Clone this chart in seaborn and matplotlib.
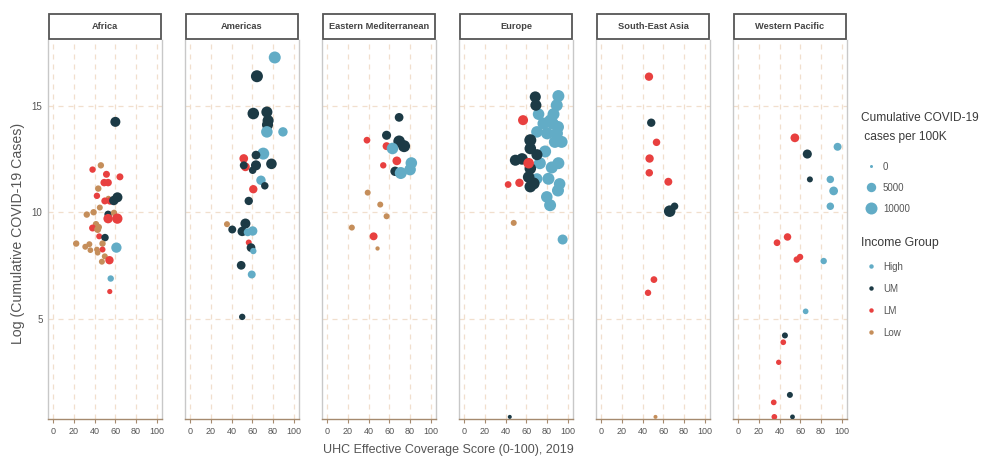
import numpy as np
import pandas as pd
import matplotlib
matplotlib.use("Agg")
import matplotlib.pyplot as plt
import matplotlib.colors as mcolors
from matplotlib.lines import Line2D
from matplotlib.patches import Rectangle
import seaborn as sns

# ---------------- data ----------------
regions = ["Africa", "Americas", "Eastern Mediterranean", "Europe",
           "South-East Asia", "Western Pacific"]
income_levels = ["High", "UM", "LM", "Low"]
income_colors = ["#62acc6", "#1c3a45", "#e8403f", "#c58e5a"]
size_breaks = [0, 5000, 10000]
x_ticks = [0, 20, 40, 60, 80, 100]
y_ticks = [5, 10, 15]

africa_uhc = [38, 46, 51.4, 64.4, 49.2, 53, 43.5, 42.2, 53.3, 49.8, 54.9, 58.5, 62,
              45, 39, 32.4, 53, 58.7, 53, 61.9, 41.3, 38, 42.9, 44, 44.4, 50, 47.6,
              22.2, 31, 34.9, 35.9, 42.2, 42.9, 47.6, 61, 49.8, 54.3, 47, 55.5, 54.6, 60]
africa_log = [12.0, 12.2, 11.78, 11.66, 11.39, 11.39, 11.11, 10.77, 10.64, 10.53, 10.53,
              10.55, 10.7, 10.22, 10.0, 9.89, 9.9, 9.97, 9.70, 9.70, 9.44, 9.26, 9.19,
              9.3, 8.87, 8.81, 8.53, 8.53, 8.38, 8.5, 8.22, 8.25, 8.1, 8.25, 8.34, 7.93,
              7.75, 7.68, 6.89, 6.28, 14.24]
africa_inc = ["LM", "Low", "LM", "LM", "LM", "LM", "Low", "LM", "Low", "LM", "LM",
              "UM", "UM", "Low", "Low", "Low", "UM", "Low", "LM", "LM", "Low", "LM", "Low",
              "Low", "LM", "UM", "Low", "Low", "Low", "Low", "Low", "Low", "Low", "LM",
              "High", "Low", "LM", "Low", "High", "LM", "UM"]
africa_cases = [1500, 1500, 2000, 2000, 2500, 2500, 1500, 1500, 1000, 2000, 2500,
                5000, 6000, 1200, 1500, 1500, 2500, 1500, 5000, 6500, 1500, 2000, 2000,
                1500, 1200, 2500, 1500, 1500, 1200, 1200, 1000, 1000, 1000, 1200,
                6500, 1200, 3500, 1200, 1500, 700, 6000]

americas_uhc = [81.6, 64.4, 60.9, 74, 75.2, 74.6, 74, 89.5, 70.5, 63.5, 51.7, 53.3,
                51.7, 63.5, 78.4, 60.3, 68.3, 72, 60.9, 56.5, 35.5, 40.6, 53.3, 50.2,
                60.3, 55.5, 56.5, 58.7, 60.9, 49.2, 59.4, 50.2]
americas_log = [17.26, 16.38, 14.63, 14.7, 14.3, 14.1, 13.77, 13.77, 12.75, 12.68,
                12.52, 12.13, 12.2, 12.2, 12.27, 11.97, 11.5, 11.24, 11.08, 10.53, 9.44,
                9.19, 9.47, 9.1, 9.12, 9.06, 8.58, 8.34, 8.18, 7.51, 7.08, 5.09]
americas_inc = ["High", "UM", "UM", "UM", "UM", "UM", "High", "High", "High", "UM",
                "LM", "LM", "UM", "UM", "UM", "UM", "High", "UM", "LM", "UM", "Low",
                "UM", "UM", "UM", "High", "High", "LM", "UM", "High", "UM", "High", "UM"]
americas_cases = [15000, 10000, 9000, 8000, 8000, 8000, 9000, 5000, 10000, 4000,
                  4000, 4000, 3000, 6000, 7000, 2500, 5000, 2500, 3500, 3500, 1200,
                  3000, 6000, 5000, 5000, 3000, 1200, 4000, 1500, 4000, 3000, 1500]

emed_uhc = [69.4, 57.3, 38.4, 69.4, 74.2, 57.3, 63, 67.2, 54.1, 81.2, 80, 65.5, 71,
            39.1, 51.2, 57.3, 23.8, 44.8, 48.6]
emed_log = [14.45, 13.61, 13.38, 13.33, 13.1, 13.1, 12.99, 12.41, 12.2, 12.31, 12.0,
            11.92, 11.84, 10.92, 10.36, 9.81, 9.28, 8.87, 8.30]
emed_inc = ["UM", "UM", "LM", "UM", "UM", "LM", "High", "LM", "LM", "High", "High",
            "UM", "High", "Low", "Low", "Low", "Low", "LM", "Low"]
emed_cases = [4000, 4500, 1800, 9000, 10000, 3000, 9000, 4000, 1500, 9000, 9000,
              5000, 10500, 1200, 1200, 1200, 1200, 3000, 300]

europe_uhc = [90.9, 89.3, 86.2, 83, 71.8, 76.5, 85.5, 90.5, 70.2, 80, 89.5, 94, 87.5,
              78.1, 73, 90.9, 84.5, 70.2, 81.3, 92.1, 90.5, 79.7, 82.9, 95,
              68.6, 69.2, 63.8, 63.8, 49.4, 55.8, 70.2, 63.8, 62.2, 67, 63.8,
              56.8, 62.2, 42.4, 53.3, 47.8, 44]
europe_log = [15.45, 15.02, 14.6, 14.3, 14.6, 14.16, 14.16, 14.0, 13.77, 13.7, 13.7,
              13.3, 13.3, 12.85, 12.3, 12.3, 12.1, 11.57, 11.57, 11.33, 11.02, 10.72,
              10.33, 8.72, 15.41, 15.02, 13.38, 12.99, 12.44, 12.5, 12.7, 12.05, 11.65,
              11.35, 11.2, 14.32, 12.3, 11.30, 11.38, 9.50, 0.4]
europe_inc = ["High"] * 24 + ["UM"] * 11 + ["LM", "LM", "LM", "LM", "Low", "UM"]
europe_cases = [11000, 11000, 11000, 11000, 9000, 11000, 11000, 11000, 9000, 11000,
                11000, 11000, 11000, 11000, 11000, 11000, 11000, 8000, 11000, 9000,
                11000, 9000, 11000, 6000, 8000, 8000, 10000, 9000, 8000, 9000, 8000,
                9000, 9000, 10000, 9000, 6000, 7000, 1800, 3500, 1200, 200]

sea_uhc = [46.1, 48.3, 53.4, 46.7, 46.4, 64.8, 66.1, 70.8, 50.9, 45.2, 52.4]
sea_log = [16.36, 14.2, 13.28, 12.52, 11.85, 11.43, 10.05, 10.28, 6.84, 6.22, 0.4]
sea_inc = ["LM", "UM", "LM", "LM", "LM", "LM", "UM", "UM", "LM", "LM", "Low"]
sea_cases = [3500, 3500, 2500, 3500, 2500, 3000, 9000, 2500, 1800, 1500, 200]

wp_uhc = [54.7, 95.9, 66.7, 69.2, 88.9, 92.1, 88.9, 47.6, 37.5, 59.7, 56.5, 82.5,
          65.1, 45.1, 43.5, 39.1, 49.9, 34.3, 34.9, 52.4]
wp_log = [13.49, 13.07, 12.73, 11.54, 11.54, 11.0, 10.28, 8.84, 8.57, 7.9, 7.78, 7.71,
          5.35, 4.22, 3.90, 2.96, 1.43, 1.08, 0.4, 0.4]
wp_inc = ["LM", "High", "UM", "UM", "High", "High", "High", "LM", "LM", "LM", "LM",
          "High", "High", "UM", "LM", "LM", "UM", "LM", "LM", "UM"]
wp_cases = [4000, 3000, 4500, 1200, 2500, 4000, 2500, 2500, 1800, 1500, 1500, 1500,
            1000, 1200, 1000, 800, 1200, 1000, 1000, 500]

region_data = {
    "Africa": (africa_uhc, africa_log, africa_inc, africa_cases),
    "Americas": (americas_uhc, americas_log, americas_inc, americas_cases),
    "Eastern Mediterranean": (emed_uhc, emed_log, emed_inc, emed_cases),
    "Europe": (europe_uhc, europe_log, europe_inc, europe_cases),
    "South-East Asia": (sea_uhc, sea_log, sea_inc, sea_cases),
    "Western Pacific": (wp_uhc, wp_log, wp_inc, wp_cases),
}
frames = []
for reg, (u, l, inc, c) in region_data.items():
    frames.append(pd.DataFrame({"region": reg, "uhc": u, "logcases": l,
                                "income": inc, "cases": c}))
df = pd.concat(frames, ignore_index=True)

# ---------------- style ----------------
sns.set_style("white")
plt.rcParams["font.family"] = ["Liberation Sans", "DejaVu Sans"]

palette = dict(zip(income_levels, income_colors))
size_norm = mcolors.PowerNorm(gamma=0.76, vmin=0, vmax=10000)
size_range = (4.7, 74.6)

W, H = 985, 459
fig = plt.figure(figsize=(W / 100, H / 100), dpi=100)

grid_col = "#f1dfcd"
axis_col = "#a58a6e"
text_col = "#555555"
title_col = "#3a3a3a"

panel_w = 114
panel_top, panel_bot = 40, 419
for i, reg in enumerate(regions):
    left = 48 + 137 * i
    ax = fig.add_axes([left / W, (H - panel_bot) / H, panel_w / W,
                       (panel_bot - panel_top) / H])
    sub = df[df["region"] == reg]
    sns.scatterplot(data=sub, x="uhc", y="logcases", hue="income", size="cases",
                    hue_order=income_levels, palette=palette, sizes=size_range,
                    size_norm=size_norm, linewidth=0, legend=False, ax=ax, zorder=3)
    ax.set_xlim(-5, 105)
    ax.set_ylim(0.3, 18.08)
    ax.set_xticks(x_ticks)
    ax.set_yticks(y_ticks)
    ax.grid(True, linestyle=(0, (4, 4)), color=grid_col, linewidth=0.9)
    ax.set_axisbelow(True)
    ax.set_xlabel("")
    ax.set_ylabel("")
    for s in ["left", "right", "top"]:
        ax.spines[s].set_color("#c8c8c8")
        ax.spines[s].set_linewidth(1.0)
    ax.spines["top"].set_visible(False)
    ax.spines["bottom"].set_color(axis_col)
    ax.spines["bottom"].set_linewidth(1.0)
    ax.tick_params(axis="x", colors=axis_col, labelcolor=text_col, labelsize=6.5,
                   length=3, width=0.8, pad=2.5, bottom=True)
    ax.tick_params(axis="y", length=0, labelcolor=text_col, labelsize=7, pad=4)
    if i > 0:
        ax.set_yticklabels([])
    # facet strip
    strip_h = 25 / (panel_bot - panel_top)
    ax.add_patch(Rectangle((0.005, 1.003), 0.99, strip_h, transform=ax.transAxes,
                           facecolor="white", edgecolor="#555555", linewidth=1.3,
                           clip_on=False, zorder=5))
    ax.text(0.5, 1.003 + strip_h / 2, reg, transform=ax.transAxes, ha="center",
            va="center", fontsize=6.7, fontweight="bold", color="#444444", zorder=6)

fig.text(448 / W, 1 - 450 / H, "UHC Effective Coverage Score (0-100), 2019",
         ha="center", va="center", fontsize=9, color=text_col)
fig.text(18 / W, 1 - 233 / H, "Log (Cumulative COVID-19 Cases)", rotation=90,
         ha="center", va="center", fontsize=10.2, color=text_col)

# ---------------- legends ----------------
fig.text(861 / W, 1 - 118 / H, "Cumulative COVID-19", ha="left", va="center",
         fontsize=8.6, color=title_col)
fig.text(861 / W, 1 - 137 / H, " cases per 100K", ha="left", va="center",
         fontsize=8.6, color=title_col)
fig.text(861 / W, 1 - 243 / H, "Income Group", ha="left", va="center",
         fontsize=8.8, color=title_col)

leg_s = [size_range[0] + (size_range[1] - size_range[0]) * float(size_norm(v))
         for v in size_breaks]
size_handles = [Line2D([], [], marker="o", ls="", color=income_colors[0],
                       markeredgewidth=0, markersize=np.sqrt(s)) for s in leg_s]
leg1 = fig.legend(size_handles, [str(v) for v in size_breaks],
                  loc="upper left", bbox_to_anchor=(861 / W, 1 - 157 / H),
                  frameon=False, fontsize=7, borderpad=0, handleheight=1.2,
                  handlelength=1.0, handletextpad=0.75, labelspacing=1.12)
for t in leg1.get_texts():
    t.set_color(text_col)

inc_handles = [Line2D([], [], marker="o", ls="", color=c, markeredgewidth=0,
                      markersize=3.2) for c in income_colors]
leg2 = fig.legend(inc_handles, income_levels,
                  loc="upper left", bbox_to_anchor=(861 / W, 1 - 257 / H),
                  frameon=False, fontsize=7, borderpad=0, handleheight=1.2,
                  handlelength=1.0, handletextpad=0.75, labelspacing=1.2)
for t in leg2.get_texts():
    t.set_color(text_col)

fig.savefig("out.png", dpi=100)
